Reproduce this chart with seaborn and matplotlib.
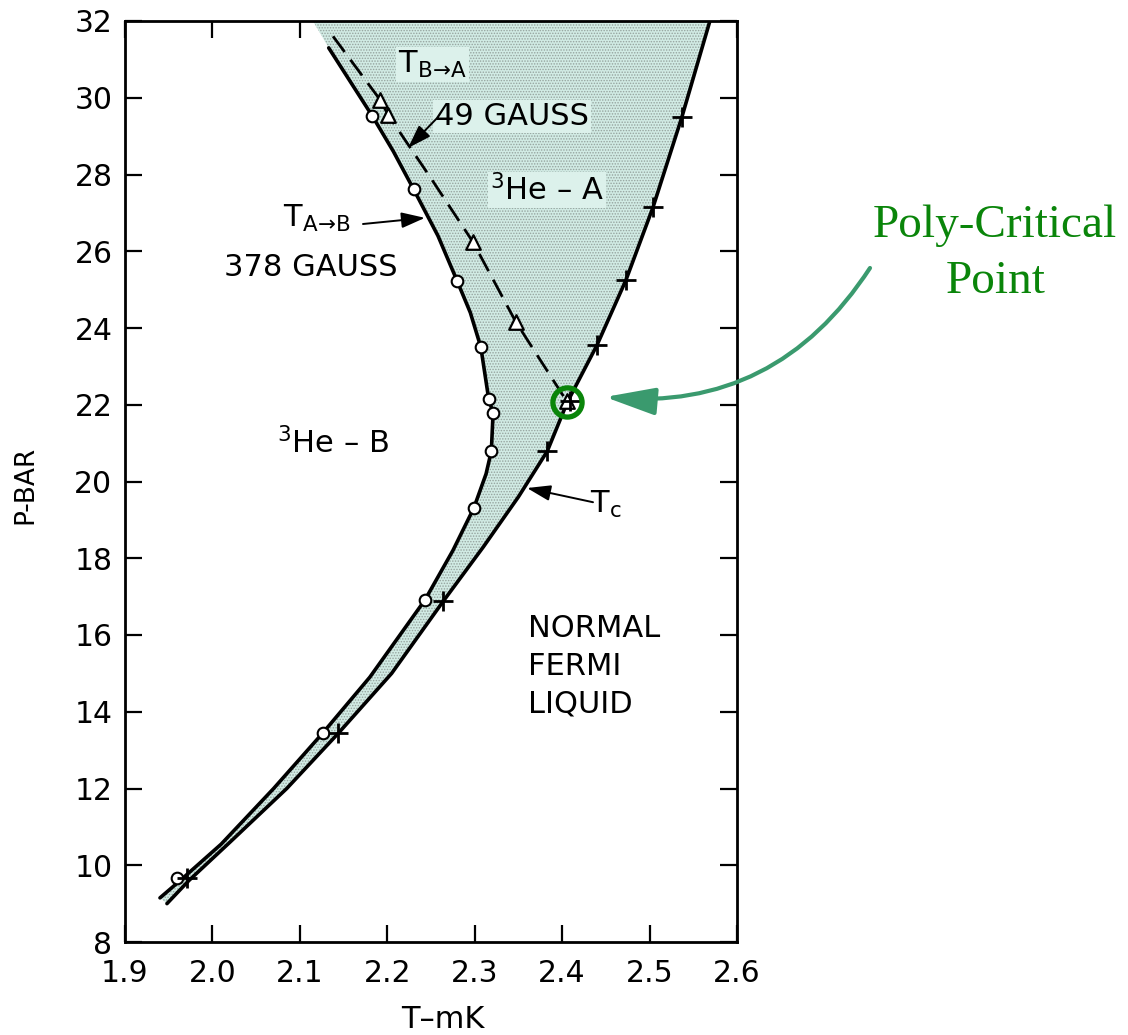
import matplotlib
matplotlib.use("Agg")
import matplotlib.pyplot as plt
import seaborn as sns

# ---------------- data ----------------
# T_A->B (378 gauss) transition line : solid, open circles
ab_line_T = [1.940, 1.963, 2.010, 2.070, 2.126, 2.180, 2.243, 2.275, 2.299, 2.313,
             2.319, 2.321, 2.316, 2.307, 2.295, 2.280, 2.258, 2.230, 2.207, 2.183, 2.133]
ab_line_P = [9.15, 9.60, 10.55, 12.00, 13.44, 14.90, 16.91, 18.20, 19.31, 20.20,
             20.79, 21.78, 22.15, 23.50, 24.40, 25.22, 26.40, 27.62, 28.60, 29.52, 31.30]
ab_pts_T = [1.960, 2.126, 2.243, 2.299, 2.319, 2.321, 2.316, 2.307, 2.280, 2.230, 2.183]
ab_pts_P = [9.66, 13.44, 16.91, 19.31, 20.79, 21.78, 22.15, 23.50, 25.22, 27.62, 29.52]

# Tc line : solid, plus markers
tc_line_T = [1.948, 1.973, 2.020, 2.085, 2.144, 2.205, 2.264, 2.310, 2.350, 2.383,
             2.406, 2.440, 2.473, 2.504, 2.537, 2.569]
tc_line_P = [9.00, 9.60, 10.60, 12.00, 13.44, 15.00, 16.88, 18.30, 19.60, 20.79,
             22.07, 23.56, 25.25, 27.15, 29.50, 32.00]
tc_pts_T = [1.971, 2.144, 2.264, 2.383, 2.409, 2.440, 2.473, 2.504, 2.537]
tc_pts_P = [9.66, 13.44, 16.88, 20.79, 22.10, 23.56, 25.25, 27.15, 29.50]

# T_B->A (49 gauss) line : dashed, open triangles
ba_line_T = [2.138, 2.192, 2.201, 2.250, 2.298, 2.347, 2.405]
ba_line_P = [31.60, 29.94, 29.55, 27.90, 26.24, 24.16, 22.10]
ba_pts_T = [2.192, 2.201, 2.298, 2.347, 2.405]
ba_pts_P = [29.94, 29.55, 26.24, 24.16, 22.10]

# left edge of the shaded A-phase region at the top of the frame
shade_top_T = [2.115]
shade_top_P = [32.0]

poly_T = [2.4055]
poly_P = [22.07]

x_ticks = [1.9, 2.0, 2.1, 2.2, 2.3, 2.4, 2.5, 2.6]
x_tick_labels = ["1.9", "2.0", "2.1", "2.2", "2.3", "2.4", "2.5", "2.6"]
y_ticks = [8, 10, 12, 14, 16, 18, 20, 22, 24, 26, 28, 30, 32]

# ---------------- figure ----------------
sns.set_theme(style="ticks")
plt.rcParams["font.family"] = ["DejaVu Sans"]
plt.rcParams["mathtext.fontset"] = "dejavusans"
plt.rcParams["hatch.linewidth"] = 0.7
plt.rcParams["text.color"] = "black"

W, H = 1128, 1035
fig = plt.figure(figsize=(W / 100, H / 100), dpi=100)
fig.patch.set_facecolor("white")
ax = fig.add_axes([125 / W, 1 - 942 / H, 612 / W, 921 / H])
ax.set_facecolor("white")

mint = "#d1ebe4"

# shaded A phase region
poly_x = list(ab_line_T) + shade_top_T + list(tc_line_T[::-1])
poly_y = list(ab_line_P) + shade_top_P + list(tc_line_P[::-1])
ax.fill(poly_x, poly_y, facecolor=mint, edgecolor="#95a39e", hatch="......",
        linewidth=0, zorder=1)

# lines
sns.lineplot(x=ab_line_T, y=ab_line_P, sort=False, estimator=None, ax=ax,
             color="black", linewidth=2.6, zorder=3)
sns.lineplot(x=tc_line_T, y=tc_line_P, sort=False, estimator=None, ax=ax,
             color="black", linewidth=2.6, zorder=3)
sns.lineplot(x=ba_line_T, y=ba_line_P, sort=False, estimator=None, ax=ax,
             color="black", linewidth=2.0, linestyle=(0, (7, 3.5)), zorder=3)

# markers
sns.scatterplot(x=ab_pts_T, y=ab_pts_P, marker="o", s=70, facecolor="white",
                edgecolor="black", linewidth=1.5, ax=ax, zorder=5)
sns.scatterplot(x=ba_pts_T, y=ba_pts_P, marker="^", s=110, facecolor="white",
                edgecolor="black", linewidth=1.6, ax=ax, zorder=5)
sns.scatterplot(x=tc_pts_T, y=tc_pts_P, marker="+", s=190, color="black",
                linewidth=2.0, ax=ax, zorder=6)

# poly-critical circle
ax.plot(poly_T, poly_P, marker="o", markersize=21, markerfacecolor="none",
        markeredgecolor="#0a850a", markeredgewidth=3.8, linestyle="none", zorder=7)

# axes styling
ax.set_xlim(1.9, 2.6)
ax.set_ylim(8, 32)
ax.set_xticks(x_ticks)
ax.set_xticklabels(x_tick_labels)
ax.set_yticks(y_ticks)
for sp in ax.spines.values():
    sp.set_visible(True)
    sp.set_linewidth(2.0)
    sp.set_color("black")
ax.tick_params(axis="both", direction="in", length=12, width=1.6,
               top=True, right=True, labelsize=21.5, colors="black")
ax.tick_params(axis="x", pad=12)
ax.tick_params(axis="y", pad=9)
ax.grid(False)

ax.set_xlabel("T–mK", fontsize=22, color="black")
ax.xaxis.set_label_coords((443 - 125) / 612, (942 - 1020) / 921)
ax.xaxis.label.set_va("center")
ax.set_ylabel("P-BAR", fontsize=19, color="black")
ax.yaxis.set_label_coords((25 - 125) / 612, (942 - 485) / 921)
ax.yaxis.label.set_va("center")

# labels inside the plot
lab = dict(fontsize=22, color="black", zorder=8)
box = dict(facecolor="#dcf1eb", edgecolor="none", pad=1.5)
ax.text(2.212, 30.64, r"T$_{\mathrm{B}\!\rightarrow\!\mathrm{A}}$", ha="left",
        va="baseline", bbox=box, **lab)
ax.text(2.2546, 29.29, "49 GAUSS", ha="left", va="baseline", bbox=box, **lab)
ax.text(2.3175, 27.33, r"$^{3}$He – A", ha="left", va="baseline", bbox=box, **lab)
ax.text(2.0807, 26.63, r"T$_{\mathrm{A}\!\rightarrow\!\mathrm{B}}$", ha="left",
        va="baseline", **lab)
ax.text(2.0132, 25.35, "378 GAUSS", ha="left", va="baseline", **lab)
ax.text(2.074, 20.74, r"$^{3}$He – B", ha="left", va="baseline", **lab)
ax.text(2.432, 19.18, r"T$_{\mathrm{c}}$", ha="left", va="baseline", **lab)
for txt, yb in zip(["NORMAL", "FERMI", "LIQUID"], [15.95, 14.955, 13.99]):
    ax.text(2.361, yb, txt, ha="left", va="baseline", **lab)

arrow_k = dict(arrowstyle="-|>,head_length=0.9,head_width=0.3", color="black",
               lw=1.4, mutation_scale=16, shrinkA=0, shrinkB=0)
ax.annotate("", xy=(2.2237, 28.69), xytext=(2.2569, 29.47), arrowprops=arrow_k, zorder=8)
ax.annotate("", xy=(2.2431, 26.87), xytext=(2.1722, 26.71), arrowprops=arrow_k, zorder=8)
ax.annotate("", xy=(2.3598, 19.83), xytext=(2.4353, 19.46), arrowprops=arrow_k, zorder=8)

# green annotation outside the frame
green_txt = "#0a850a"
fig.text(995 / W, 1 - 237 / H, "Poly-Critical", ha="center", va="baseline",
         fontsize=34, color=green_txt, family=["Liberation Serif", "DejaVu Serif"])
fig.text(996 / W, 1 - 293 / H, "Point", ha="center", va="baseline",
         fontsize=34, color=green_txt, family=["Liberation Serif", "DejaVu Serif"])
ax.annotate("", xy=(605, H - 397), xycoords="figure pixels",
            xytext=(870, H - 268), textcoords="figure pixels",
            arrowprops=dict(arrowstyle="-|>,head_length=1.4,head_width=0.38",
                            connectionstyle="arc3,rad=-0.3", color="#3a9a6e",
                            lw=3.0, mutation_scale=22, shrinkA=0, shrinkB=0),
            annotation_clip=False)

fig.savefig("out.png", dpi=100, facecolor="white")
